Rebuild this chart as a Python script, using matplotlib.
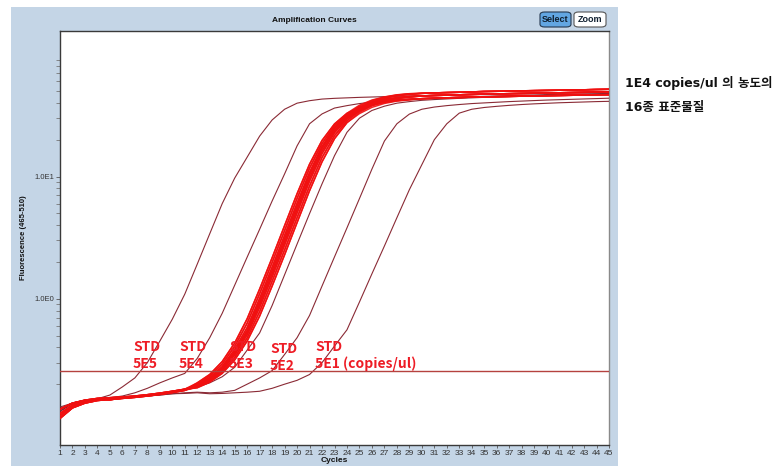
import matplotlib
matplotlib.use("Agg")
import matplotlib.pyplot as plt
from matplotlib.patches import Rectangle, FancyBboxPatch
from matplotlib.ticker import FixedLocator, NullFormatter

# ---------------- data ----------------
cycles = list(range(1, 46))
threshold = 0.258

std_labels = ["5E5", "5E4", "5E3", "5E2", "5E1"]
std_5e5 = [0.130, 0.140, 0.146, 0.152, 0.163, 0.190, 0.225, 0.300, 0.450, 0.680,
           1.09, 1.92, 3.40, 6.00, 9.70, 14.4, 21.4, 29.0, 35.5, 39.8,
           41.7, 43.0, 43.6, 44.0, 44.4, 44.7, 45.0, 45.3, 45.6, 45.9,
           46.2, 46.5, 46.8, 47.0, 47.3, 47.5, 47.7, 47.9, 48.1, 48.3,
           48.5, 48.7, 48.9, 49.1, 49.3]
std_5e4 = [0.125, 0.140, 0.147, 0.150, 0.155, 0.160, 0.170, 0.185, 0.205, 0.225,
           0.245, 0.325, 0.480, 0.760, 1.29, 2.19, 3.70, 6.30, 10.5, 17.8,
           27.0, 32.5, 36.3, 38.0, 39.5, 40.6, 41.5, 42.2, 42.8, 43.3,
           43.8, 44.2, 44.6, 45.0, 45.3, 45.6, 45.9, 46.2, 46.5, 46.8,
           47.0, 47.2, 47.4, 47.6, 47.8]
std_5e3 = [0.120, 0.140, 0.147, 0.150, 0.152, 0.155, 0.158, 0.162, 0.168, 0.175,
           0.180, 0.190, 0.205, 0.230, 0.275, 0.380, 0.525, 0.880, 1.57, 2.80,
           4.97, 8.70, 14.8, 23.0, 30.0, 34.7, 37.6, 39.8, 41.0, 42.0,
           42.6, 43.1, 43.6, 44.0, 44.4, 44.8, 45.1, 45.4, 45.7, 46.0,
           46.3, 46.6, 46.9, 47.1, 47.3]
std_5e2 = [0.120, 0.140, 0.148, 0.150, 0.152, 0.155, 0.157, 0.160, 0.163, 0.167,
           0.170, 0.172, 0.170, 0.172, 0.178, 0.200, 0.225, 0.258, 0.350, 0.480,
           0.730, 1.27, 2.20, 3.80, 6.60, 11.5, 19.5, 27.0, 32.4, 35.5,
           37.0, 38.0, 38.8, 39.5, 40.0, 40.5, 41.0, 41.4, 41.8, 42.2,
           42.5, 42.8, 43.1, 43.4, 43.7]
std_5e1 = [0.120, 0.140, 0.148, 0.152, 0.153, 0.155, 0.157, 0.160, 0.163, 0.167,
           0.168, 0.170, 0.167, 0.168, 0.170, 0.172, 0.175, 0.185, 0.200, 0.215,
           0.240, 0.300, 0.410, 0.557, 0.940, 1.60, 2.70, 4.60, 7.80, 12.5,
           20.0, 27.0, 33.0, 35.5, 36.7, 37.5, 38.2, 38.8, 39.3, 39.7,
           40.1, 40.4, 40.7, 41.0, 41.2]

# 16 standards at 1E4 copies/ul
ref_01 = [0.105, 0.128, 0.140, 0.147, 0.150, 0.153, 0.156, 0.160, 0.165, 0.171, 0.178,
          0.205, 0.240, 0.306, 0.434, 0.685, 1.20, 2.16, 3.96, 7.22, 12.6, 19.7, 26.9, 32.9,
          38.3, 42.2, 44.8, 46.6, 47.6,
          47.9, 48.3, 48.6, 48.9, 49.2, 49.6, 49.8, 50.0, 50.2, 50.4, 50.6, 50.8, 51.0, 51.2, 51.5, 51.7]
ref_02 = [0.125, 0.140, 0.148, 0.153, 0.155, 0.157, 0.160, 0.164, 0.169, 0.175, 0.182,
          0.205, 0.240, 0.306, 0.434, 0.685, 1.20, 2.16, 3.96, 7.22, 12.6, 19.7, 26.9, 32.9,
          36.8, 39.8, 41.4, 42.4, 43.0,
          43.3, 43.7, 44.0, 44.3, 44.6, 44.8, 45.0, 45.2, 45.4, 45.6, 45.8, 46.0, 46.2, 46.4, 46.6, 46.7]
ref_03 = [0.115, 0.135, 0.145, 0.150, 0.152, 0.155, 0.158, 0.162, 0.167, 0.173, 0.180,
          0.201, 0.233, 0.292, 0.408, 0.631, 1.10, 1.98, 3.61, 6.61, 11.7, 18.6, 26.0, 32.2,
          37.0, 40.6, 42.9, 44.2, 45.2,
          45.6, 46.0, 46.3, 46.6, 46.9, 47.2, 47.4, 47.6, 47.8, 48.0, 48.2, 48.4, 48.6, 48.8, 49.0, 49.2]
ref_04 = [0.110, 0.132, 0.143, 0.152, 0.149, 0.154, 0.157, 0.163, 0.166, 0.172, 0.181,
          0.201, 0.233, 0.292, 0.408, 0.631, 1.10, 1.98, 3.61, 6.61, 11.7, 18.6, 26.0, 32.2,
          37.7, 41.8, 44.6, 46.4, 47.5,
          47.9, 48.3, 48.6, 48.9, 49.2, 49.6, 49.8, 50.0, 50.2, 50.4, 50.6, 50.8, 51.0, 51.2, 51.5, 51.7]
ref_05 = [0.105, 0.128, 0.140, 0.147, 0.150, 0.153, 0.156, 0.160, 0.165, 0.171, 0.178,
          0.198, 0.226, 0.279, 0.385, 0.581, 1.007, 1.81, 3.30, 6.05, 10.8, 17.6, 25.1, 31.5,
          35.7, 39.0, 40.9, 42.1, 42.8,
          43.3, 43.7, 44.0, 44.3, 44.6, 44.8, 45.0, 45.2, 45.4, 45.6, 45.8, 46.0, 46.2, 46.4, 46.6, 46.7]
ref_06 = [0.125, 0.140, 0.148, 0.153, 0.155, 0.157, 0.160, 0.164, 0.169, 0.175, 0.182,
          0.198, 0.226, 0.279, 0.385, 0.581, 1.007, 1.81, 3.30, 6.05, 10.8, 17.6, 25.1, 31.5,
          36.4, 40.2, 42.6, 44.1, 45.1,
          45.6, 46.0, 46.3, 46.6, 46.9, 47.2, 47.4, 47.6, 47.8, 48.0, 48.2, 48.4, 48.6, 48.8, 49.0, 49.2]
ref_07 = [0.115, 0.135, 0.145, 0.150, 0.152, 0.155, 0.158, 0.162, 0.167, 0.173, 0.180,
          0.195, 0.222, 0.270, 0.370, 0.550, 0.950, 1.70, 3.10, 5.70, 10.3, 17.0, 24.5, 31.0,
          36.7, 41.2, 44.2, 46.2, 47.3,
          47.9, 48.3, 48.6, 48.9, 49.2, 49.6, 49.8, 50.0, 50.2, 50.4, 50.6, 50.8, 51.0, 51.2, 51.5, 51.7]
ref_08 = [0.110, 0.132, 0.143, 0.152, 0.149, 0.154, 0.157, 0.163, 0.166, 0.172, 0.181,
          0.195, 0.222, 0.270, 0.370, 0.550, 0.950, 1.70, 3.10, 5.70, 10.3, 17.0, 24.5, 31.0,
          36.0, 40.0, 42.5, 44.0, 45.0,
          45.6, 46.0, 46.3, 46.6, 46.9, 47.2, 47.4, 47.6, 47.8, 48.0, 48.2, 48.4, 48.6, 48.8, 49.0, 49.2]
ref_09 = [0.105, 0.128, 0.140, 0.147, 0.150, 0.153, 0.156, 0.160, 0.165, 0.171, 0.178,
          0.193, 0.219, 0.265, 0.359, 0.529, 0.900, 1.60, 2.92, 5.36, 9.71, 16.2, 23.6, 30.3,
          35.5, 39.6, 42.2, 43.8, 44.9,
          45.6, 46.0, 46.3, 46.6, 46.9, 47.2, 47.4, 47.6, 47.8, 48.0, 48.2, 48.4, 48.6, 48.8, 49.0, 49.2]
ref_10 = [0.125, 0.140, 0.148, 0.153, 0.155, 0.157, 0.160, 0.164, 0.169, 0.175, 0.182,
          0.193, 0.219, 0.265, 0.359, 0.529, 0.900, 1.60, 2.92, 5.36, 9.71, 16.2, 23.6, 30.3,
          34.8, 38.4, 40.5, 41.8, 42.7,
          43.3, 43.7, 44.0, 44.3, 44.6, 44.8, 45.0, 45.2, 45.4, 45.6, 45.8, 46.0, 46.2, 46.4, 46.6, 46.7]
ref_11 = [0.115, 0.135, 0.145, 0.150, 0.152, 0.155, 0.158, 0.162, 0.167, 0.173, 0.180,
          0.192, 0.216, 0.260, 0.347, 0.508, 0.851, 1.51, 2.75, 5.04, 9.16, 15.4, 22.8, 29.6,
          35.6, 40.4, 43.6, 45.9, 47.0,
          47.9, 48.3, 48.6, 48.9, 49.2, 49.6, 49.8, 50.0, 50.2, 50.4, 50.6, 50.8, 51.0, 51.2, 51.5, 51.7]
ref_12 = [0.110, 0.132, 0.143, 0.152, 0.149, 0.154, 0.157, 0.163, 0.166, 0.172, 0.181,
          0.192, 0.216, 0.260, 0.347, 0.508, 0.851, 1.51, 2.75, 5.04, 9.16, 15.4, 22.8, 29.6,
          34.2, 38.0, 40.2, 41.7, 42.6,
          43.3, 43.7, 44.0, 44.3, 44.6, 44.8, 45.0, 45.2, 45.4, 45.6, 45.8, 46.0, 46.2, 46.4, 46.6, 46.7]
ref_13 = [0.105, 0.128, 0.140, 0.147, 0.150, 0.153, 0.156, 0.160, 0.165, 0.171, 0.178,
          0.190, 0.212, 0.252, 0.331, 0.479, 0.785, 1.39, 2.51, 4.60, 8.37, 14.3, 21.6, 28.6,
          34.1, 38.6, 41.6, 43.5, 44.6,
          45.6, 46.0, 46.3, 46.6, 46.9, 47.2, 47.4, 47.6, 47.8, 48.0, 48.2, 48.4, 48.6, 48.8, 49.0, 49.2]
ref_14 = [0.115, 0.135, 0.145, 0.150, 0.152, 0.155, 0.158, 0.162, 0.167, 0.173, 0.180,
          0.190, 0.212, 0.252, 0.331, 0.479, 0.785, 1.39, 2.51, 4.60, 8.37, 14.3, 21.6, 28.6,
          34.8, 39.8, 43.3, 45.7, 46.8,
          47.9, 48.3, 48.6, 48.9, 49.2, 49.6, 49.8, 50.0, 50.2, 50.4, 50.6, 50.8, 51.0, 51.2, 51.5, 51.7]
ref_15 = [0.125, 0.140, 0.148, 0.153, 0.155, 0.157, 0.160, 0.164, 0.169, 0.175, 0.182,
          0.187, 0.208, 0.245, 0.316, 0.451, 0.722, 1.27, 2.29, 4.20, 7.66, 13.2, 20.4, 27.6,
          33.4, 37.9, 41.3, 43.3, 44.5,
          45.6, 46.0, 46.3, 46.6, 46.9, 47.2, 47.4, 47.6, 47.8, 48.0, 48.2, 48.4, 48.6, 48.8, 49.0, 49.2]
ref_16 = [0.110, 0.132, 0.143, 0.152, 0.149, 0.154, 0.157, 0.163, 0.166, 0.172, 0.181,
          0.187, 0.208, 0.245, 0.316, 0.451, 0.722, 1.27, 2.29, 4.20, 7.66, 13.2, 20.4, 27.6,
          32.7, 36.8, 39.6, 41.4, 42.3,
          43.3, 43.7, 44.0, 44.3, 44.6, 44.8, 45.0, 45.2, 45.4, 45.6, 45.8, 46.0, 46.2, 46.4, 46.6, 46.7]

std_curves = [std_5e5, std_5e4, std_5e3, std_5e2, std_5e1]
ref_curves = [ref_01, ref_02, ref_03, ref_04, ref_05, ref_06, ref_07, ref_08,
              ref_09, ref_10, ref_11, ref_12, ref_13, ref_14, ref_15, ref_16]

x_tick_labels = [str(c) for c in cycles]
y_major = [1.0, 10.0]
y_major_labels = ["1.0E0", "1.0E1"]
y_minor = [0.2, 0.3, 0.4, 0.5, 0.6, 0.7, 0.8, 0.9,
           2, 3, 4, 5, 6, 7, 8, 9,
           20, 30, 40, 50, 60, 70, 80, 90]

# ---------------- layout ----------------
W, H = 778, 466
fig = plt.figure(figsize=(W / 100, H / 100), dpi=100)
fig.patch.set_facecolor("white")

def fx(px):
    return px / W

def fy(py):
    return 1 - py / H

# blue software panel
fig.patches.append(Rectangle((fx(11), 0), fx(618) - fx(11), fy(7), transform=fig.transFigure,
                             facecolor="#c4d5e6", edgecolor="none", zorder=0))

ax = fig.add_axes([fx(60), fy(445), fx(609) - fx(60), fy(31) - fy(445)])
ax.set_facecolor("white")
ax.set_zorder(2)

std_color = "#8a2a35"
ref_color = "#f01010"
for curve in std_curves:
    ax.plot(cycles, curve, color=std_color, lw=0.8, zorder=3)
for curve in ref_curves:
    ax.plot(cycles, curve, color=ref_color, lw=1.1, alpha=0.9, zorder=4)
ax.axhline(threshold, color="#b5423f", lw=1.0, zorder=5)

ax.set_yscale("log")
ax.set_xlim(1, 45)
ax.set_ylim(0.0636, 155)

ax.set_xticks(cycles)
ax.set_xticklabels(x_tick_labels, fontsize=6, family="Liberation Sans", color="#333333")
ax.yaxis.set_major_locator(FixedLocator(y_major))
ax.set_yticklabels(y_major_labels, fontsize=5.5, family="Liberation Sans", color="#333333")
ax.yaxis.set_minor_locator(FixedLocator(y_minor))
ax.yaxis.set_minor_formatter(NullFormatter())
ax.tick_params(axis="x", direction="out", length=2, width=0.6, pad=1.5, color="#555555")
ax.tick_params(axis="y", which="major", direction="out", length=3, width=0.6, pad=1, color="#555555")
ax.tick_params(axis="y", which="minor", direction="out", length=3, width=0.6, color="#777777")

for side in ["left", "bottom", "top"]:
    ax.spines[side].set_color("#3a3a3a")
    ax.spines[side].set_linewidth(1.0)
ax.spines["right"].set_color("#8a8a8a")
ax.spines["right"].set_linewidth(1.0)

# panel texts
fig.text(fx(314), fy(21), "Amplification Curves", ha="center", va="center",
         fontsize=6, fontweight="bold", family="Liberation Sans", color="#111111")
fig.text(fx(334), fy(461), "Cycles", ha="center", va="center",
         fontsize=6, fontweight="bold", family="Liberation Sans", color="#111111")
fig.text(fx(24), fy(238), "Fluorescence (465-510)", ha="center", va="center", rotation=90,
         fontsize=5.5, fontweight="bold", family="Liberation Sans", color="#111111")

# buttons
fig.patches.append(FancyBboxPatch((fx(540), fy(27)), fx(571) - fx(540), fy(12) - fy(27),
                                  boxstyle="round,pad=0,rounding_size=0.006",
                                  transform=fig.transFigure, facecolor="#62a6e2",
                                  edgecolor="#24384f", lw=0.8, zorder=3))
fig.text(fx(555.5), fy(19.5), "Select", ha="center", va="center", fontsize=6.5,
         fontweight="bold", family="Liberation Sans", color="#102030", zorder=4)
fig.patches.append(FancyBboxPatch((fx(574), fy(27)), fx(606) - fx(574), fy(12) - fy(27),
                                  boxstyle="round,pad=0,rounding_size=0.006",
                                  transform=fig.transFigure, facecolor="white",
                                  edgecolor="#555555", lw=0.8, zorder=3))
fig.text(fx(590), fy(19.5), "Zoom", ha="center", va="center", fontsize=6.5,
         fontweight="bold", family="Liberation Sans", color="#102030", zorder=4)

# annotations for the standards
kr = ["Noto Sans CJK KR", "DejaVu Sans"]
kr_wide = ["DejaVu Sans", "Noto Sans CJK KR"]
ann_red = "#ee1c25"
ann_x = [133, 179, 229, 270, 315]
ann_dy = [0, 0, 0, 2, 0]
for lab, px, dy in zip(std_labels, ann_x, ann_dy):
    second = lab + (" (copies/ul)" if lab == "5E1" else "")
    fig.text(fx(px), fy(351 + dy), "STD", ha="left", va="baseline", fontsize=10,
             fontweight="bold", family=kr, color=ann_red, zorder=10)
    fig.text(fx(px), fy(368 + dy), second, ha="left", va="baseline", fontsize=10,
             fontweight="bold", family=kr, color=ann_red, zorder=10)

# right side note
fig.text(fx(625), fy(83), "1E4 copies/ul 의 농도의", ha="left", va="center", fontsize=9,
         fontweight="bold", family=kr_wide, color="#111111")
fig.text(fx(625), fy(108), "16종 표준물질", ha="left", va="center", fontsize=9,
         fontweight="bold", family=kr_wide, color="#111111")

fig.savefig("out.png", dpi=100, facecolor="white")
